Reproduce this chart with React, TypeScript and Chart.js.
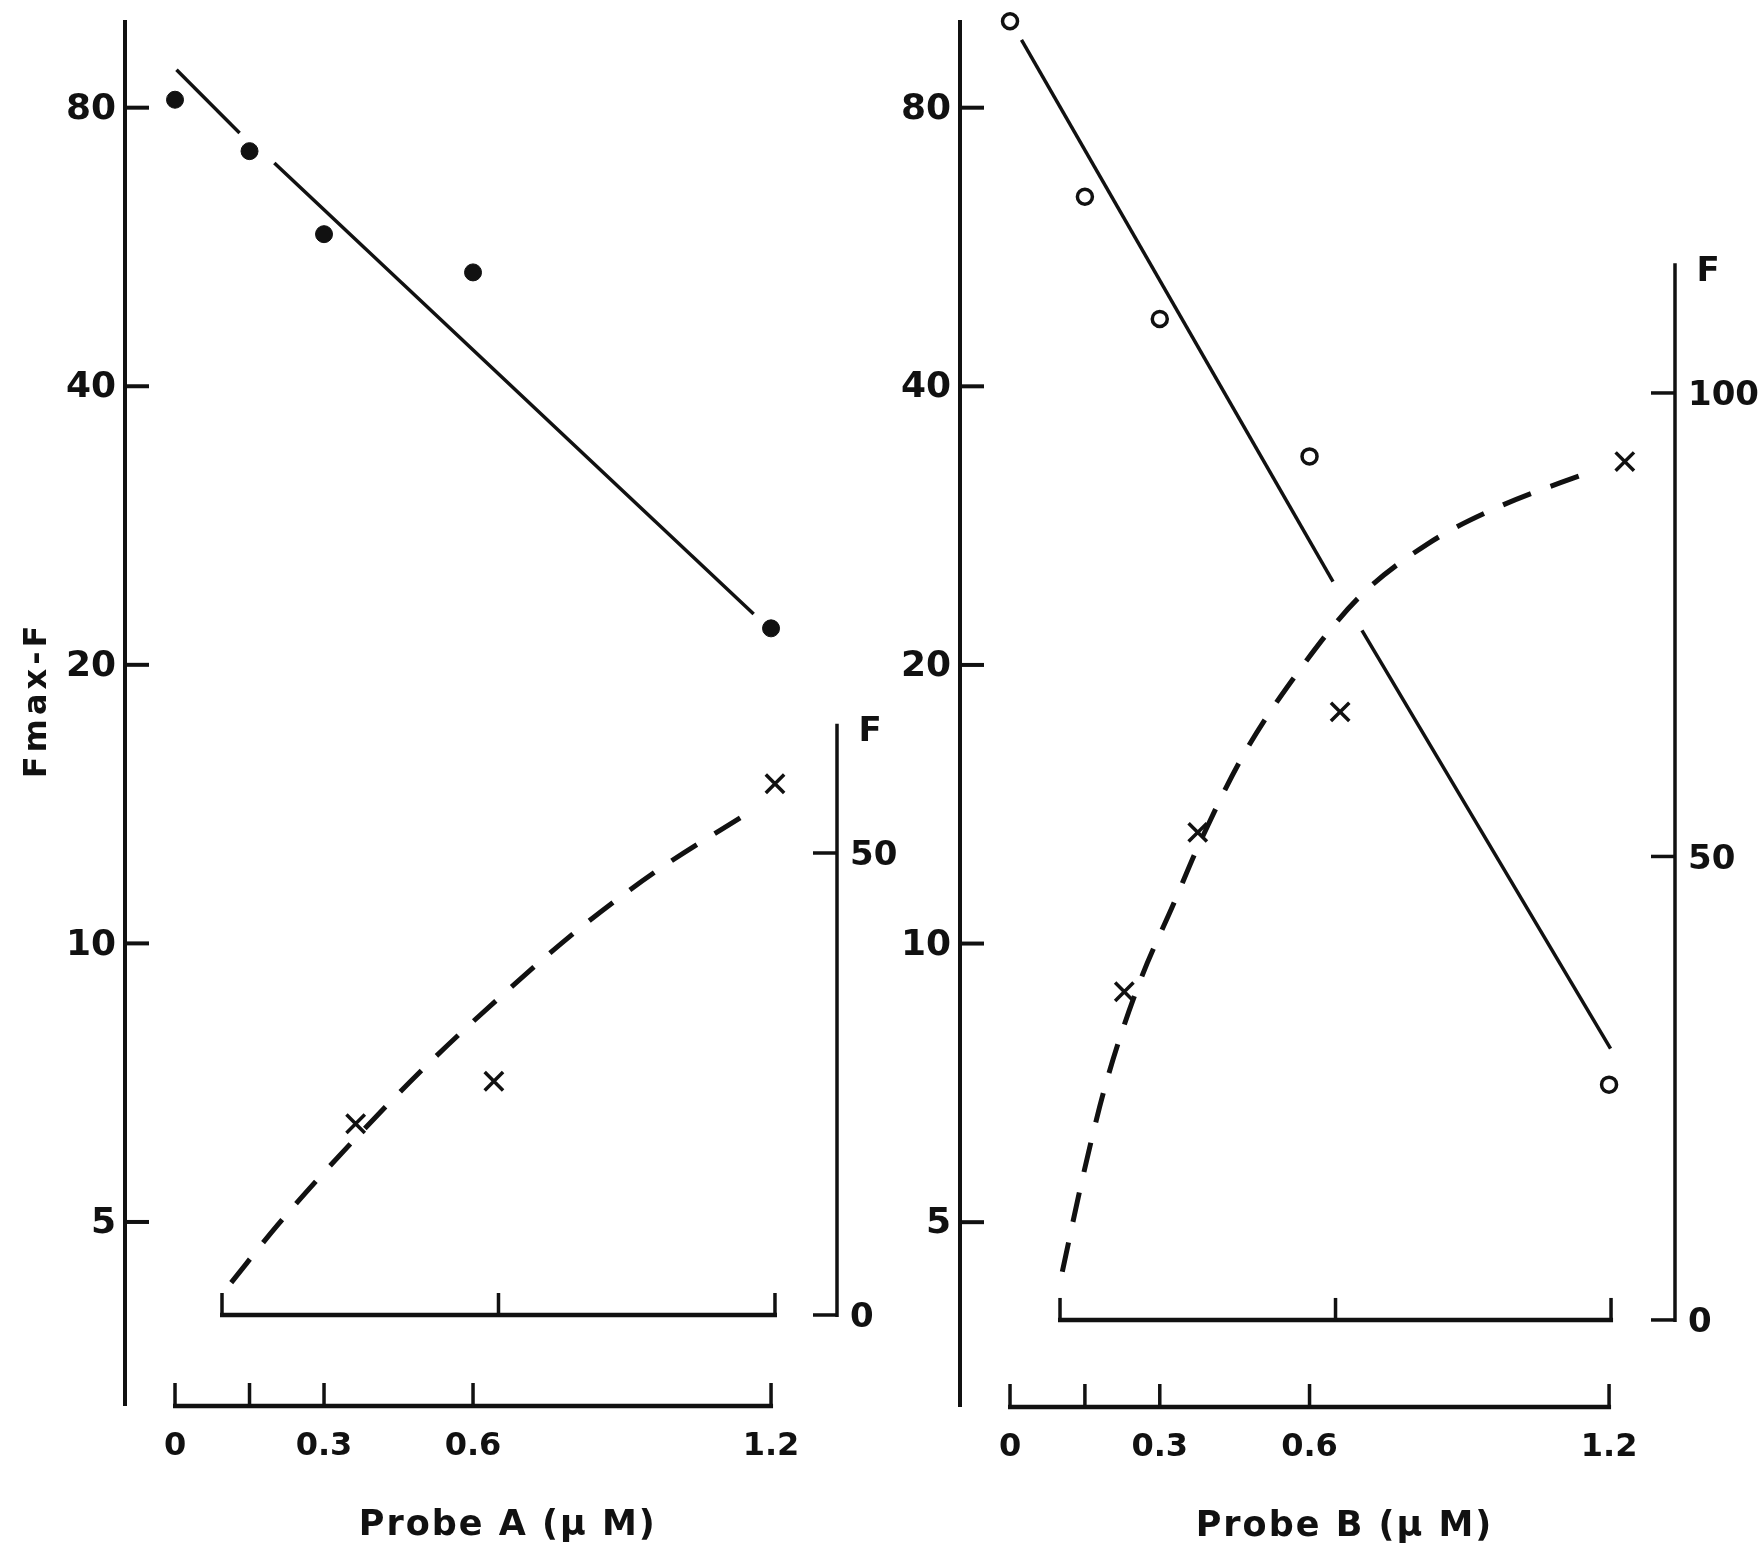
import React, { useEffect, useRef } from "react";
import { Chart, registerables } from "chart.js";

Chart.register(...registerables);

// ---------------- data ----------------
const yTickValues = [5, 10, 20, 40, 80];
const xTickValues = [0, 0.15, 0.3, 0.6, 1.2];
const xTickLabels = ["0", "", "0.3", "0.6", "1.2"];
const innerTickValues = [0, 0.6, 1.2];
const probeAFTicks = [0, 50];
const probeBFTicks = [0, 50, 100];

const concentrations = [0, 0.15, 0.3, 0.6, 1.2];
const probeAFmaxF = [81.6, 71.8, 58.4, 53.1, 21.9];
const probeBFmaxF = [99.2, 64.1, 47.3, 33.6, 7.04];

const probeAFConc = [0.29, 0.59, 1.2];
const probeAF = [20.7, 25.3, 57.5];
const probeBFConc = [0.14, 0.3, 0.61, 1.23];
const probeBF = [35.4, 52.6, 65.6, 92.6];

// fitted straight lines (log scale), null = break in the drawn line
const probeAFitConc = [0.003, 0.13, null, 0.2, 1.165];
const probeAFitValue = [87.9, 75.1, null, 69.7, 22.7];
const probeBFitConc = [0.023, 0.647, null, 0.705, 1.203];
const probeBFitValue = [94.7, 24.6, null, 21.8, 7.7];

// dashed F curves
const probeACurveConc = [0.02, 0.12, 0.28, 0.45, 0.61, 0.78, 0.95, 1.15];
const probeACurveF = [3.5, 9.7, 18.6, 27.3, 34.7, 42.0, 48.3, 54.6];
const probeBCurveConc = [0.005, 0.05, 0.1, 0.17, 0.25, 0.3, 0.4, 0.52, 0.65, 0.8, 0.95, 1.16];
const probeBCurveF = [5.2, 15.5, 25.5, 36, 45.2, 51, 61, 70, 77.9, 83.7, 87.6, 91.6];

// ---------------- layout / style ----------------
const W = 1759;
const H = 1555;
const INK = "#111111";
const FONT = '"DejaVu Sans", "Liberation Sans", sans-serif';

type Panel = {
  padding: { left: number; top: number; right: number; bottom: number };
  x: [number, number];
  xIn: [number, number];
  y: [number, number];
  yF: [number, number];
  fmaxF: number[];
  filled: boolean;
  fConc: number[];
  fVals: number[];
  fitConc: (number | null)[];
  fitVals: (number | null)[];
  curveConc: number[];
  curveF: number[];
  fTicks: number[];
  fTop: number;
  title: string;
  yTitle?: string;
};

const leftPanel: Panel = {
  padding: { left: 125, top: 18, right: W - 837, bottom: H - 1406 },
  x: [-0.1007, 1.3328],
  xIn: [-0.2105, 1.3346],
  y: [3.163, 100],
  yF: [-9.85, 140.37],
  fmaxF: probeAFmaxF,
  filled: true,
  fConc: probeAFConc,
  fVals: probeAF,
  fitConc: probeAFitConc,
  fitVals: probeAFitValue,
  curveConc: probeACurveConc,
  curveF: probeACurveF,
  fTicks: probeAFTicks,
  fTop: 64,
  title: "Probe A (\u03bc M)",
  yTitle: "Fmax-F",
};

const rightPanel: Panel = {
  padding: { left: 960, top: 18, right: W - 1675, bottom: H - 1407 },
  x: [-0.1002, 1.3321],
  xIn: [-0.2178, 1.3393],
  y: [3.157, 100],
  yF: [-9.39, 140.45],
  fmaxF: probeBFmaxF,
  filled: false,
  fConc: probeBFConc,
  fVals: probeBF,
  fitConc: probeBFitConc,
  fitVals: probeBFitValue,
  curveConc: probeBCurveConc,
  curveF: probeBCurveF,
  fTicks: probeBFTicks,
  fTop: 114,
  title: "Probe B (\u03bc M)",
};

function pts(xs: number[], ys: number[]) {
  return xs.map((x, i) => ({ x, y: ys[i] }));
}

function splitAtNull(xs: (number | null)[], ys: (number | null)[]) {
  const out: { x: number; y: number }[][] = [];
  let cur: { x: number; y: number }[] = [];
  xs.forEach((x, i) => {
    const y = ys[i];
    if (x === null || y === null) {
      if (cur.length) out.push(cur);
      cur = [];
    } else cur.push({ x, y });
  });
  if (cur.length) out.push(cur);
  return out;
}

const paperAxes = {
  id: "paperAxes",
  afterDatasetsDraw(chart: any, _args: any, o: any) {
    const { ctx, chartArea: a, scales } = chart;
    const sx = scales.x;
    const sxi = scales.xIn;
    const sy = scales.y;
    const sf = scales.yF;
    const seg = (x1: number, y1: number, x2: number, y2: number, w: number) => {
      ctx.lineWidth = w;
      ctx.beginPath();
      ctx.moveTo(x1, y1);
      ctx.lineTo(x2, y2);
      ctx.stroke();
    };
    const txt = (s: string, x: number, y: number, align: CanvasTextAlign, size: number, spacing = 0) => {
      ctx.font = `bold ${size}px ${FONT}`;
      ctx.textAlign = align;
      ctx.textBaseline = "alphabetic";
      (ctx as any).letterSpacing = `${spacing}px`;
      ctx.fillText(s, x, y + size * 0.365);
      (ctx as any).letterSpacing = "0px";
    };
    ctx.save();
    ctx.strokeStyle = INK;
    ctx.fillStyle = INK;
    ctx.lineCap = "butt";

    // main (log) y axis
    seg(a.left, a.top + 2, a.left, a.bottom, 4);
    for (const v of yTickValues) {
      const py = sy.getPixelForValue(v);
      seg(a.left, py, a.left + 24, py, 4);
      txt(String(v), a.left - 9, py - 2, "right", 36);
    }

    // main concentration axis
    const by = a.bottom;
    const bx0 = sx.getPixelForValue(xTickValues[0]);
    const bx1 = sx.getPixelForValue(xTickValues[xTickValues.length - 1]);
    seg(bx0 - 2, by, bx1 + 2, by, 4.5);
    xTickValues.forEach((v, i) => {
      const px = sx.getPixelForValue(v);
      seg(px, by + 2, px, by - 23, 3.5);
      if (xTickLabels[i]) txt(xTickLabels[i], px, by + 37, "center", 32);
    });

    // inner concentration axis for F
    const iy = sf.getPixelForValue(0);
    const ix0 = sxi.getPixelForValue(innerTickValues[0]);
    const ix1 = sxi.getPixelForValue(innerTickValues[innerTickValues.length - 1]);
    seg(ix0 - 2, iy, ix1 + 2, iy, 4.5);
    for (const v of innerTickValues) {
      const px = sxi.getPixelForValue(v);
      seg(px, iy + 2, px, iy - 22, 3.5);
    }

    // F axis on the right
    const fx = a.right;
    const topY = sf.getPixelForValue(o.fTop);
    seg(fx, topY, fx, iy + 2, 3.5);
    for (const v of o.fTicks) {
      const py = sf.getPixelForValue(v);
      seg(fx - 24, py, fx, py, 3.5);
      txt(String(v), fx + 13, py, "left", 34);
    }
    txt("F", fx + 33, topY + 5, "center", 34);

    // x title
    txt(o.title, sx.getPixelForValue(0.67), by + 116, "center", 35, 2);

    // y title
    if (o.yTitle) {
      ctx.save();
      ctx.translate(a.left - 91, (a.top + a.bottom) / 2 - 12);
      ctx.rotate(-Math.PI / 2);
      txt(o.yTitle, 0, 0, "center", 32, 4);
      ctx.restore();
    }
    ctx.restore();
  },
};

function buildConfig(p: Panel): any {
  const datasets: any[] = [];
  datasets.push({
    label: "Fmax-F",
    data: pts(concentrations, p.fmaxF),
    xAxisID: "x",
    yAxisID: "y",
    showLine: false,
    pointStyle: "circle",
    pointRadius: p.filled ? 8.5 : 7.5,
    pointHoverRadius: p.filled ? 8.5 : 7.5,
    pointBackgroundColor: p.filled ? INK : "#ffffff",
    pointBorderColor: INK,
    pointBorderWidth: p.filled ? 1 : 3.5,
    clip: false,
  });
  datasets.push({
    label: "F",
    data: pts(p.fConc, p.fVals),
    xAxisID: "xIn",
    yAxisID: "yF",
    showLine: false,
    pointStyle: "crossRot",
    pointRadius: 13,
    pointHoverRadius: 13,
    pointBorderColor: INK,
    pointBorderWidth: 3.5,
    clip: false,
  });
  splitAtNull(p.fitConc, p.fitVals).forEach((s) => {
    datasets.push({
      label: "fit",
      data: s,
      xAxisID: "x",
      yAxisID: "y",
      showLine: true,
      pointRadius: 0,
      borderColor: INK,
      borderWidth: 3.5,
      clip: false,
    });
  });
  datasets.push({
    label: "F curve",
    data: pts(p.curveConc, p.curveF),
    xAxisID: "xIn",
    yAxisID: "yF",
    showLine: true,
    pointRadius: 0,
    borderColor: INK,
    borderWidth: 5,
    borderDash: [30, 21],
    borderCapStyle: "butt",
    cubicInterpolationMode: "monotone",
    clip: false,
  });

  const hidden = (type: string, r: [number, number], position: string) => ({
    type,
    min: r[0],
    max: r[1],
    display: false,
    bounds: "data",
    position,
  });

  return {
    type: "scatter",
    data: { datasets },
    options: {
      responsive: false,
      animation: false,
      devicePixelRatio: 1,
      events: [],
      layout: { padding: p.padding },
      scales: {
        x: hidden("linear", p.x, "bottom"),
        xIn: hidden("linear", p.xIn, "bottom"),
        y: hidden("logarithmic", p.y, "left"),
        yF: hidden("linear", p.yF, "right"),
      },
      plugins: {
        legend: { display: false },
        tooltip: { enabled: false },
        paperAxes: { fTicks: p.fTicks, fTop: p.fTop, title: p.title, yTitle: p.yTitle },
      },
    },
    plugins: [paperAxes],
  };
}

function PanelChart({ panel }: { panel: Panel }) {
  const ref = useRef<HTMLCanvasElement>(null);
  useEffect(() => {
    const chart = new Chart(ref.current as HTMLCanvasElement, buildConfig(panel));
    return () => chart.destroy();
  }, [panel]);
  return (
    <canvas
      ref={ref}
      width={W}
      height={H}
      style={{ position: "absolute", left: 0, top: 0, width: W, height: H }}
    />
  );
}

export default function App() {
  return (
    <div
      style={{
        position: "absolute",
        left: 0,
        top: 0,
        width: W,
        height: H,
        background: "#ffffff",
        overflow: "hidden",
      }}
    >
      <PanelChart panel={leftPanel} />
      <PanelChart panel={rightPanel} />
    </div>
  );
}
